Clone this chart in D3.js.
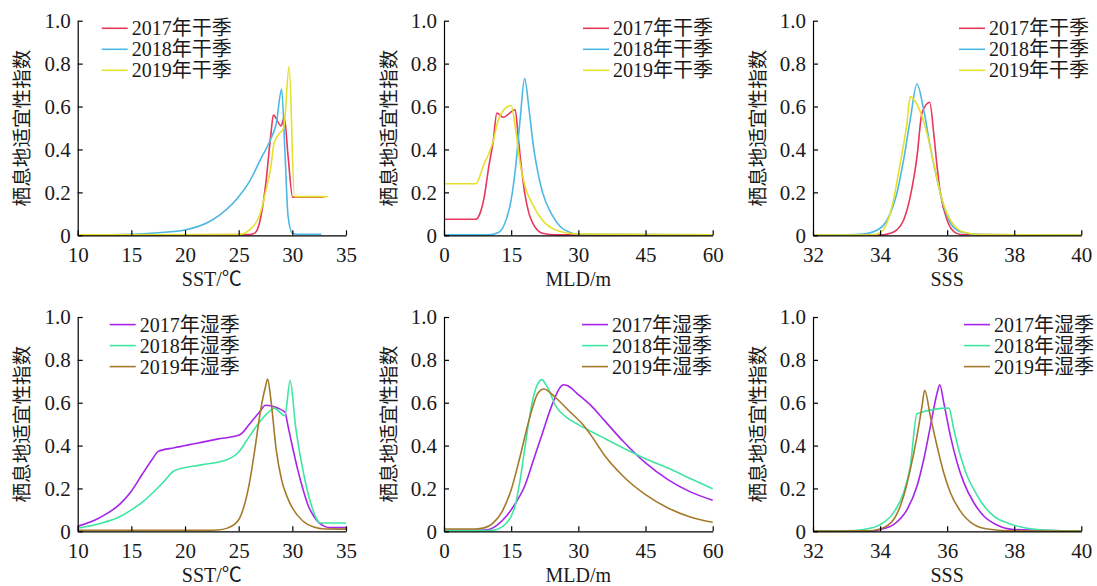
<html>
<head>
<script src="https://d3js.org/d3.v7.min.js"></script>
<style>
body { margin: 0; background: #fff; }
text { font-family: "Liberation Serif", "Times New Roman", "Noto Sans CJK SC", serif; fill: #1a1a1a; }
</style>
</head>
<body>
<svg id="chart" width="1097" height="586"></svg>
<script>
// ---- data: [x, habitat suitability index] ----
var sstDry2017 = [[10,0.002],[20,0.002],[26,0.003],[26.5,0.01],[27,0.07],[27.5,0.23],[28,0.47],[28.23,0.56],[28.95,0.51],[29.25,0.55],[29.6,0.37],[30.03,0.177],[32.9,0.177]];
var sstDry2018 = [[10,0.002],[15,0.005],[17.5,0.012],[20,0.025],[22.5,0.07],[25,0.18],[26,0.25],[27,0.35],[28,0.45],[28.5,0.52],[29,0.68],[29.3,0.4],[29.6,0.09],[30,0.01],[30.5,0.005],[32.7,0.005]];
var sstDry2019 = [[10,0.002],[25,0.003],[26,0.025],[27,0.1],[27.5,0.2],[28,0.32],[28.3,0.43],[28.8,0.475],[29.2,0.5],[29.7,0.786],[30.2,0.18],[33.3,0.18]];

var mldDry2017 = [[0,0.075],[7.06,0.075],[8,0.1],[9,0.18],[10,0.32],[11,0.44],[11.8,0.57],[13.2,0.55],[15.9,0.585],[16.5,0.475],[17,0.37],[18,0.2],[19,0.1],[20,0.05],[22,0.01],[25,0.002],[60,0.002]];
var mldDry2018 = [[0,0.002],[10,0.002],[12,0.012],[13,0.03],[14,0.08],[15,0.165],[16,0.32],[17,0.54],[18,0.73],[19,0.585],[20,0.41],[21,0.29],[22,0.2],[24,0.1],[26,0.04],[28,0.014],[30,0.005],[60,0.002]];
var mldDry2019 = [[0,0.24],[7.06,0.24],[9,0.335],[10,0.38],[11,0.44],[12,0.53],[13,0.575],[15,0.605],[16,0.49],[17,0.335],[18,0.235],[20,0.135],[22,0.07],[25,0.025],[30,0.006],[60,0.002]];

var sssDry2017 = [[32,0.001],[34.1,0.002],[34.3,0.009],[34.5,0.025],[34.7,0.07],[34.9,0.18],[35.1,0.365],[35.25,0.57],[35.48,0.62],[35.6,0.475],[35.7,0.32],[35.8,0.195],[36,0.07],[36.2,0.017],[36.4,0.004],[40,0.001]];
var sssDry2018 = [[32,0.001],[33,0.002],[33.5,0.006],[34,0.033],[34.3,0.1],[34.5,0.195],[34.7,0.35],[34.9,0.54],[35.1,0.705],[35.3,0.585],[35.5,0.41],[35.7,0.26],[35.9,0.135],[36.1,0.056],[36.4,0.017],[37,0.003],[40,0.001]];
var sssDry2019 = [[32,0.001],[33.8,0.002],[34,0.012],[34.2,0.055],[34.4,0.165],[34.6,0.335],[34.8,0.52],[34.9,0.645],[35.2,0.575],[35.4,0.475],[35.6,0.335],[35.8,0.195],[36,0.1],[36.2,0.048],[36.5,0.014],[37,0.003],[40,0.001]];

var sstWet2017 = [[10,0.023],[12,0.062],[14,0.13],[15,0.187],[16,0.265],[17,0.34],[17.5,0.373],[19,0.39],[21,0.41],[23,0.43],[25.1,0.45],[26,0.5],[27,0.56],[27.5,0.588],[29.3,0.557],[29.6,0.49],[30,0.397],[30.5,0.288],[31,0.195],[31.5,0.117],[32,0.07],[32.5,0.039],[33,0.023],[33.5,0.017],[35,0.017]];
var sstWet2018 = [[10,0.014],[12,0.035],[14,0.07],[15,0.1],[16,0.135],[17,0.18],[18,0.23],[19,0.283],[21.5,0.31],[23.9,0.334],[25,0.37],[26,0.443],[27,0.513],[28,0.565],[28.3,0.575],[29.3,0.54],[29.8,0.703],[30.3,0.49],[30.8,0.334],[31.3,0.21],[31.8,0.117],[32.3,0.054],[32.6,0.039],[35,0.039]];
var sstWet2019 = [[10,0.005],[22,0.005],[23,0.006],[24,0.016],[25,0.054],[25.5,0.117],[26,0.225],[26.5,0.38],[27,0.552],[27.5,0.676],[27.7,0.71],[28,0.614],[28.5,0.38],[29,0.24],[29.5,0.163],[30,0.109],[31,0.047],[32,0.02],[33,0.011],[35,0.01]];

var mldWet2017 = [[0,0.005],[8,0.005],[10,0.008],[12,0.031],[14,0.073],[16,0.132],[18,0.21],[20,0.334],[22,0.459],[24,0.583],[26,0.673],[26.6,0.684],[27.5,0.68],[30,0.638],[33,0.583],[36,0.513],[40,0.42],[45,0.319],[50,0.241],[55,0.184],[60,0.145]];
var mldWet2018 = [[0,0.003],[10,0.003],[12,0.01],[14,0.04],[15,0.07],[16,0.13],[17,0.24],[18,0.38],[19,0.52],[20,0.63],[21,0.69],[21.8,0.708],[23,0.676],[25,0.583],[27.5,0.529],[30,0.498],[35,0.443],[40,0.389],[45,0.339],[50,0.295],[55,0.246],[60,0.199]];
var mldWet2019 = [[0,0.011],[7,0.011],[9,0.016],[11,0.039],[13,0.093],[15,0.194],[17,0.35],[19,0.52],[21,0.645],[22.3,0.664],[25,0.622],[28,0.56],[31,0.498],[33,0.443],[36,0.35],[40,0.257],[45,0.171],[50,0.109],[55,0.067],[60,0.042]];

var sssWet2017 = [[32,0.001],[33.8,0.002],[34,0.008],[34.4,0.031],[34.8,0.1],[35.1,0.21],[35.3,0.334],[35.5,0.49],[35.7,0.645],[35.78,0.684],[35.9,0.599],[36.1,0.443],[36.3,0.319],[36.5,0.226],[36.8,0.132],[37.1,0.07],[37.5,0.028],[38,0.008],[40,0.001]];
var sssWet2018 = [[32,0.001],[33,0.002],[33.5,0.008],[34,0.031],[34.4,0.086],[34.7,0.18],[34.9,0.303],[35.1,0.549],[36.05,0.575],[36.2,0.474],[36.4,0.35],[36.6,0.257],[36.8,0.194],[37,0.14],[37.4,0.07],[37.8,0.039],[38.2,0.02],[39,0.005],[40,0.002]];
var sssWet2019 = [[32,0.001],[33.6,0.002],[34,0.011],[34.4,0.054],[34.7,0.163],[34.9,0.288],[35.1,0.443],[35.25,0.583],[35.33,0.658],[35.5,0.537],[35.7,0.397],[35.9,0.272],[36.1,0.179],[36.4,0.093],[36.8,0.031],[37.2,0.011],[38,0.002],[40,0.001]];

var dryNames = ["2017年干季", "2018年干季", "2019年干季"];
var wetNames = ["2017年湿季", "2018年湿季", "2019年湿季"];
var dryColors = ["#e8365c", "#4db8e4", "#e4e02c"];
var wetColors = ["#a625e8", "#3ee6a2", "#a47a2a"];

var sstTicks = [10, 15, 20, 25, 30, 35];
var mldTicks = [0, 15, 30, 45, 60];
var sssTicks = [32, 34, 36, 38, 40];
var hsiTicks = [0, 0.2, 0.4, 0.6, 0.8, 1.0];
var yTitle = "栖息地适宜性指数";

// ---- layout ----
var colX = [[77.7, 346], [444, 712.7], [813, 1081.3]];
var rowY = [[235.3, 20.7], [531.3, 317]];

var panels = [
    {col: 0, row: 0, ticks: sstTicks, title: "SST/℃", series: [sstDry2017, sstDry2018, sstDry2019], names: dryNames, colors: dryColors, legX: 24},
    {col: 1, row: 0, ticks: mldTicks, title: "MLD/m", series: [mldDry2017, mldDry2018, mldDry2019], names: dryNames, colors: dryColors, legX: 139},
    {col: 2, row: 0, ticks: sssTicks, title: "SSS", series: [sssDry2017, sssDry2018, sssDry2019], names: dryNames, colors: dryColors, legX: 146},
    {col: 0, row: 1, ticks: sstTicks, title: "SST/℃", series: [sstWet2017, sstWet2018, sstWet2019], names: wetNames, colors: wetColors, legX: 32},
    {col: 1, row: 1, ticks: mldTicks, title: "MLD/m", series: [mldWet2017, mldWet2018, mldWet2019], names: wetNames, colors: wetColors, legX: 138},
    {col: 2, row: 1, ticks: sssTicks, title: "SSS", series: [sssWet2017, sssWet2018, sssWet2019], names: wetNames, colors: wetColors, legX: 151}
];

var svg = d3.select("#chart");
var tickFs = 21, legFs = 20, titleFs = 20;

panels.forEach(function(p) {
    var l = colX[p.col][0], r = colX[p.col][1];
    var b = rowY[p.row][0], t = rowY[p.row][1];
    var x = d3.scaleLinear().domain(d3.extent(p.ticks)).range([l, r]);
    var y = d3.scaleLinear().domain([0, 1]).range([b, t]);
    var g = svg.append("g");

    var line = d3.line()
        .x(function(d) { return x(d[0]); })
        .y(function(d) { return y(d[1]); })
        .curve(d3.curveMonotoneX);

    p.series.forEach(function(s, i) {
        g.append("path")
            .datum(s)
            .attr("d", line)
            .attr("fill", "none")
            .attr("stroke", p.colors[i])
            .attr("stroke-width", 1.6);
    });

    var xa = g.append("g")
        .attr("transform", "translate(0," + b + ")")
        .call(d3.axisBottom(x).tickValues(p.ticks).tickSizeInner(-5).tickSizeOuter(0).tickPadding(12));
    var ya = g.append("g")
        .attr("transform", "translate(" + l + ",0)")
        .call(d3.axisLeft(y).tickValues(hsiTicks).tickSizeInner(-5).tickSizeOuter(0).tickPadding(7)
            .tickFormat(function(d) { return d === 0 ? "0" : d3.format(".1f")(d); }));
    [xa, ya].forEach(function(a) {
        a.selectAll("text").attr("font-size", tickFs).attr("font-family", null).style("fill", "#1a1a1a");
        a.selectAll("line, path").attr("stroke", "#000").attr("stroke-width", 1.2);
    });

    g.append("text")
        .attr("x", (l + r) / 2)
        .attr("y", b + 51)
        .attr("text-anchor", "middle")
        .attr("font-size", titleFs)
        .text(p.title);

    g.append("text")
        .attr("transform", "translate(" + (l - 55) + "," + ((t + b) / 2) + ") rotate(-90)")
        .attr("text-anchor", "middle")
        .attr("dominant-baseline", "central")
        .attr("font-family", "Noto Sans CJK SC")
        .attr("font-size", 19.6)
        .text(yTitle);

    var leg = g.append("g").attr("transform", "translate(" + (l + p.legX) + "," + (t + 7.6) + ")");
    p.names.forEach(function(n, i) {
        leg.append("line")
            .attr("x1", 0).attr("x2", 26)
            .attr("y1", i * 21).attr("y2", i * 21)
            .attr("stroke", p.colors[i]).attr("stroke-width", 1.6);
        leg.append("text")
            .attr("x", 30)
            .attr("y", i * 21 + 7)
            .attr("font-size", legFs)
            .text(n);
    });
});
</script>
</body>
</html>
